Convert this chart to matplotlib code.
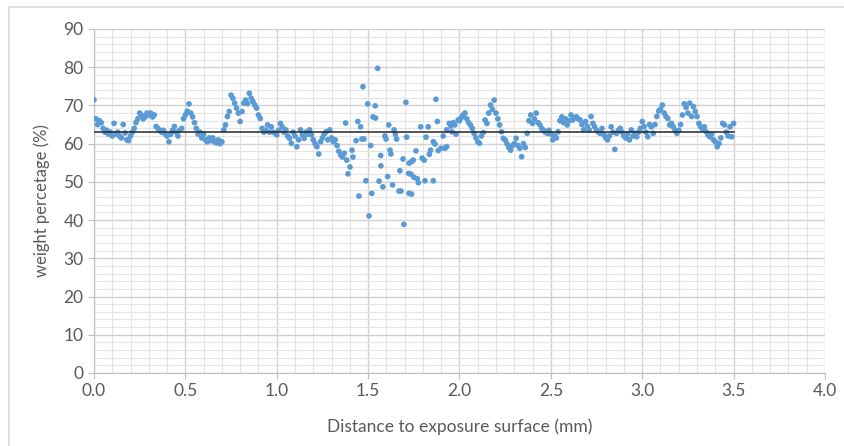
import matplotlib.pyplot as plt
import numpy as np
from matplotlib.patches import Rectangle
from matplotlib.ticker import MultipleLocator

# smooth parts of the scan, 0.01 mm step
step = 0.01
left_start = 0.0
left_wt = [
    71.5, 66.5, 65.0, 66.0, 65.5, 64.0, 63.0, 63.5, 62.5, 63.0,
    62.0, 65.3, 62.5, 63.0, 62.0, 61.5, 65.0, 62.8, 61.0, 60.8,
    62.0, 63.0, 64.0, 65.5, 66.5, 68.0, 67.5, 66.5, 67.0, 68.0,
    67.5, 68.0, 67.0, 67.5, 64.5, 64.0, 63.5, 63.0, 63.5, 62.5,
    62.0, 60.5, 62.5, 63.5, 64.5, 63.0, 62.0, 63.5, 64.0, 66.5,
    67.5, 68.5, 70.4, 68.0, 67.0, 65.5, 64.0, 62.5, 63.0, 61.5,
    62.5, 61.0, 60.5, 61.5, 60.8, 61.5, 60.5, 60.2, 61.0, 60.0,
    60.5, 63.6, 64.9, 67.1, 68.4, 72.7, 71.9, 70.6, 69.3, 68.0,
    65.8, 68.4, 70.6, 71.4, 70.5, 73.2, 71.9, 71.0, 70.1, 69.3,
    67.5, 66.6, 64.0, 63.0, 63.5, 64.9, 63.0, 64.4, 63.0, 62.8,
    62.3, 63.5, 65.3, 64.4, 63.0, 63.6, 62.0, 61.4, 60.1, 63.0,
    62.0, 59.2, 61.0, 63.6, 62.3, 61.4, 63.0, 62.5, 63.6, 62.3,
    61.0, 60.0, 59.2, 57.3, 60.5, 61.5, 62.5, 63.1, 61.0, 63.6,
]

right_start = 2.0
right_wt = [
    66.0, 66.8, 67.5, 68.0, 66.5, 65.5, 64.9, 64.0, 62.7, 61.5,
    60.5, 60.1, 62.0, 62.9, 66.2, 65.3, 68.0, 70.1, 69.0, 71.4,
    68.0, 66.5, 64.9, 63.1, 61.4, 61.0, 60.0, 59.0, 58.3, 59.5,
    60.0, 61.4, 59.5, 58.8, 56.6, 60.0, 59.0, 62.7, 66.0, 67.5,
    65.3, 66.5, 68.0, 65.5, 64.9, 64.0, 63.5, 63.0, 62.7, 63.5,
    62.5, 61.0, 62.0, 61.5, 63.1, 66.0, 67.0, 65.5, 66.5, 64.9,
    66.0, 67.5, 66.2, 66.8, 67.0, 66.5, 66.2, 65.0, 63.6, 65.8,
    64.5, 63.6, 67.1, 65.3, 64.4, 63.5, 63.0, 62.7, 64.0, 62.3,
    61.5, 61.0, 62.0, 64.4, 63.0, 58.5, 62.7, 63.5, 64.0, 63.0,
    62.0, 61.5, 62.5, 61.0, 63.6, 62.0, 62.7, 61.8, 63.0, 64.0,
    65.8, 64.5, 63.0, 61.8, 65.0, 64.4, 62.7, 65.0, 67.1, 68.5,
    69.0, 70.1, 68.0, 67.1, 66.6, 64.9, 65.3, 64.4, 63.5, 62.7,
    63.5, 65.0, 67.5, 70.4, 69.5, 68.0, 70.6, 67.1, 69.7, 68.4,
    67.1, 65.3, 64.4, 63.8, 64.4, 63.1, 62.3, 61.8, 62.5, 61.0,
    60.5, 59.2, 60.0, 61.5, 65.3, 64.9, 63.0, 62.0, 64.4, 61.8,
    65.3,
]

# scattered zone around 1.3 - 2.0 mm
mid_dist = [
    1.300, 1.310, 1.320, 1.330, 1.340, 1.350, 1.360, 1.370, 1.377, 1.383,
    1.390, 1.401, 1.412, 1.417, 1.434, 1.444, 1.450, 1.459, 1.466, 1.472,
    1.477, 1.488, 1.498, 1.505, 1.514, 1.520, 1.527, 1.539, 1.541, 1.552,
    1.560, 1.569, 1.570, 1.581, 1.592, 1.598, 1.607, 1.613, 1.620, 1.625,
    1.634, 1.642, 1.649, 1.656, 1.669, 1.674, 1.680, 1.691, 1.696, 1.707,
    1.711, 1.722, 1.724, 1.724, 1.735, 1.738, 1.738, 1.747, 1.751, 1.762,
    1.769, 1.775, 1.788, 1.796, 1.807, 1.811, 1.817, 1.829, 1.835, 1.842,
    1.857, 1.857, 1.866, 1.871, 1.879, 1.884, 1.899, 1.911, 1.921, 1.930,
    1.930, 1.944, 1.953, 1.959, 1.966, 1.975, 1.981, 1.993,
]
mid_wt = [
    61.5, 60.5, 61.0, 59.5, 58.0, 57.0, 56.5, 57.5, 65.4, 55.7,
    52.1, 53.9, 58.3, 56.5, 60.8, 65.8, 46.3, 64.4, 61.2, 74.9,
    61.2, 50.3, 70.4, 41.1, 59.5, 47.0, 67.0, 69.9, 66.7, 79.7,
    50.2, 56.9, 54.2, 48.7, 62.0, 61.2, 51.4, 64.9, 58.3, 57.3,
    49.2, 63.6, 62.5, 61.2, 47.6, 52.9, 47.6, 56.0, 38.9, 70.8,
    61.7, 52.2, 54.9, 47.0, 52.0, 55.3, 46.8, 55.7, 51.2, 58.1,
    50.8, 49.8, 64.4, 56.2, 55.7, 50.3, 61.7, 64.4, 57.2, 58.3,
    50.3, 60.5, 59.9, 71.6, 65.8, 58.2, 58.8, 62.0, 58.8, 59.2,
    63.6, 65.3, 64.6, 63.1, 65.5, 64.9, 62.5, 66.2,
]

mean_wt = 63.0
mean_span = [0.0, 3.5]

left_dist = left_start + step * np.arange(len(left_wt))
right_dist = right_start + step * np.arange(len(right_wt))
dist = np.concatenate([left_dist, mid_dist, right_dist])
wt = np.concatenate([left_wt, mid_wt, right_wt])

plt.rcParams["font.family"] = ["Lato", "DejaVu Sans"]

fig = plt.figure(figsize=(8.45, 4.46), dpi=100)
ax = fig.add_axes([0.1112, 0.1637, 0.8651, 0.7713])

# outer chart frame (only top and left edges visible)
fig.patches.append(Rectangle((9 / 845, -0.1), 1.2, 1 - 7 / 446 + 0.1,
                             transform=fig.transFigure, fill=False,
                             edgecolor="#D9D9D9", lw=1.2))

ax.set_xlim(0, 4.0)
ax.set_ylim(0, 90)
ax.xaxis.set_major_locator(MultipleLocator(0.5))
ax.xaxis.set_minor_locator(MultipleLocator(0.1))
ax.yaxis.set_major_locator(MultipleLocator(10))
ax.yaxis.set_minor_locator(MultipleLocator(2))
ax.grid(which="minor", color="#E4E4E4", lw=0.8)
ax.grid(which="major", color="#D0D0D0", lw=1.0)
ax.set_axisbelow(True)

for s in ["top", "right"]:
    ax.spines[s].set_visible(False)
for s in ["left", "bottom"]:
    ax.spines[s].set_color("#BFBFBF")
ax.tick_params(which="major", length=4, color="#BFBFBF",
               labelsize=12.5, labelcolor="#595959")
ax.tick_params(which="minor", length=0)
ax.xaxis.set_major_formatter(plt.FuncFormatter(lambda v, p: f"{v:.1f}"))

ax.scatter(dist, wt, s=17, color="#5B9BD5", edgecolors="none", zorder=3)
ax.plot(mean_span, [mean_wt, mean_wt], color="#262626", lw=1.1, zorder=4)

ax.set_xlabel("Distance to exposure surface (mm)", fontsize=12.5,
              color="#595959", labelpad=14)
ax.set_ylabel("weight percetage (%)", fontsize=12, color="#595959",
              labelpad=10)

fig.savefig("out.png", dpi=100)
